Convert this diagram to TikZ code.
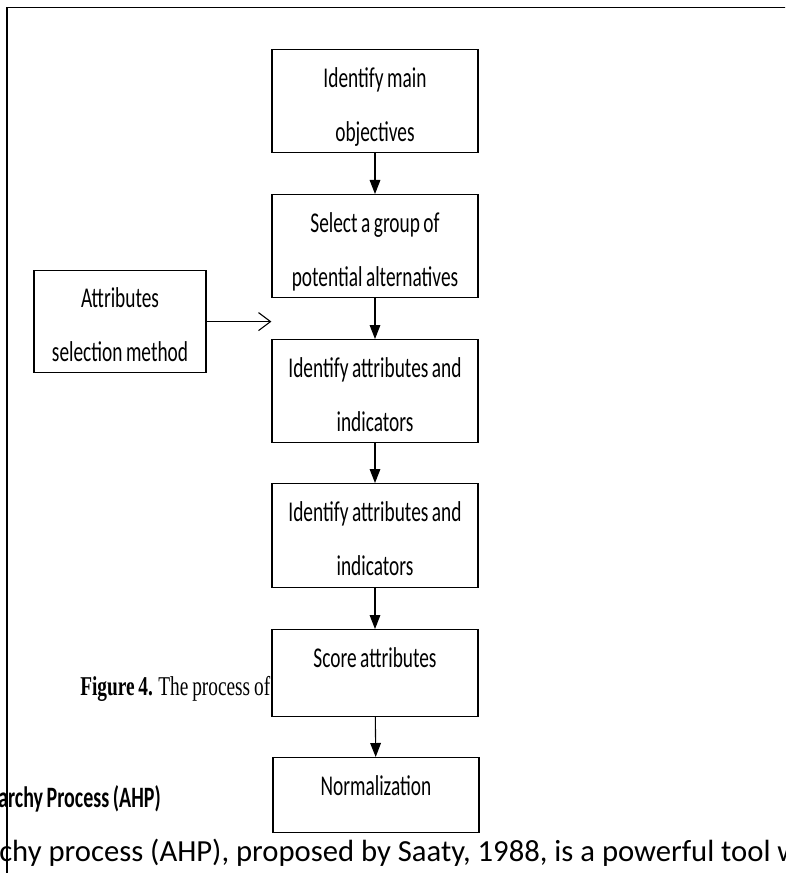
\documentclass[tikz,border=0pt]{standalone}
\usepackage{fontspec}
\newfontfamily\boxfont[FakeStretch=0.675, WordSpace=0.8]{Carlito}
\newfontfamily\bodyfont{Carlito}
\newfontfamily\capfont[FakeStretch=0.71, WordSpace=0.8]{Liberation Serif}
\usetikzlibrary{arrows.meta}

\begin{document}
\begin{tikzpicture}[x=0.75pt, y=-0.75pt,
        stepbox/.style={draw, line width=0.9pt, fill=white, anchor=north, inner sep=0pt,
            text width=154.5pt, align=flush center, text height=28.5pt, text depth=48.75pt,
            font=\boxfont\fontsize{21.5pt}{40.5pt}\selectfont},
        pagetext/.style={anchor=base west, inner sep=0pt,
            font=\boxfont\fontsize{21.5pt}{26pt}\selectfont},
        flow/.style={line width=0.8pt, -{Triangle[length=10.5pt,width=8pt]}},
        feed/.style={line width=0.8pt, -{Straight Barb[length=9pt,width=13.5pt]}}]
    \useasboundingbox (0,0) rectangle (785,873);
    \clip (0,0) rectangle (785,873);
        % text of the page behind the figure
        \node[pagetext, font=\capfont\fontsize{20.4pt}{24pt}\selectfont] (caption) at (80,695)
            {\textbf{Figure 4.} The process of};
        \node[pagetext, font=\boxfont\bfseries\fontsize{22.2pt}{26pt}\selectfont] (ahp) at (-2,807)
            {archy Process (AHP)};
        \node[pagetext, font=\bodyfont\fontsize{23pt}{26pt}\selectfont] (intro) at (-1,861)
            {chy process (AHP), proposed by Saaty, 1988, is a powerful tool w};
        \draw[line width=1.1pt] (7,880) -- (7,7.5) -- (790,7.5);

        \node[stepbox] (objectives) at (375,49) {Identify main\\objectives};
        \node[stepbox] (alternatives) at (375,194) {Select a group of\\potential alternatives};
        \node[stepbox] (attributes) at (375,339) {Identify attributes and\\indicators};
        \node[stepbox, text depth=49.5pt] (indicators) at (375,483) {Identify attributes and\\indicators};
        \node[stepbox, text depth=36.75pt] (score) at (375,629) {Score attributes};
        \node[stepbox, text depth=27.75pt] (normal) at (376,757) {Normalization};
        \node[stepbox, text width=129pt, text height=27.75pt] (method) at (120,270)
            {Attributes\\selection method};

        \draw[flow] (objectives) -- (alternatives);
        \draw[flow] (alternatives) -- (attributes);
        \draw[flow] (attributes) -- (indicators);
        \draw[flow] (indicators) -- (score);
        \draw[flow] (score) -- (normal);
        \draw[feed] (method.east) -- (method.east -| attributes.west);
\end{tikzpicture}
\end{document}
